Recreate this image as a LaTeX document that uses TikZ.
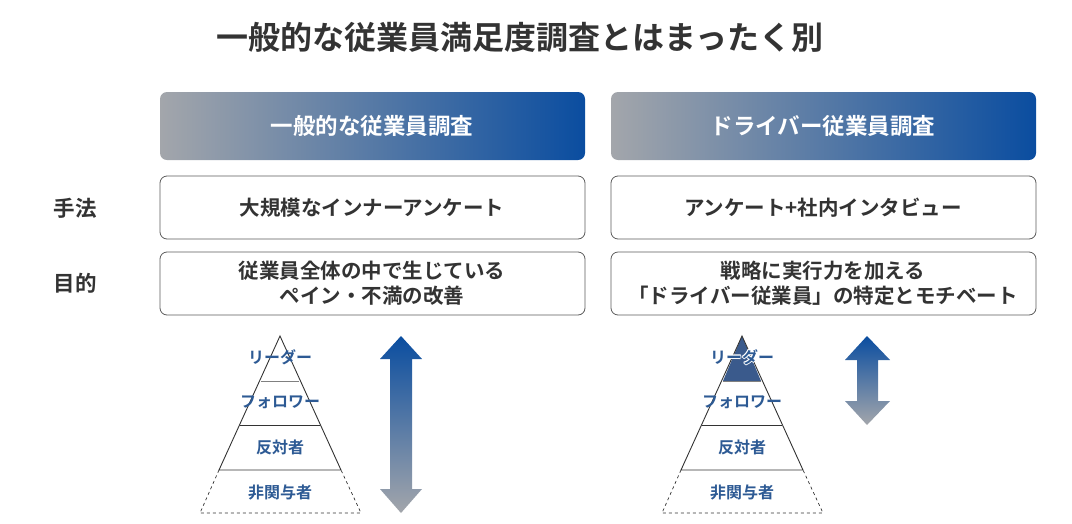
\documentclass[tikz,border=0pt]{standalone}
\usepackage{fontspec}
\setmainfont{Noto Sans CJK JP}[BoldFont={* Bold}]
\newfontfamily\cjkb{Noto Sans CJK JP Bold}
\definecolor{hblue}{HTML}{0A4DA0}
\definecolor{hgray}{HTML}{A3A6AB}
\definecolor{tblue}{HTML}{2D5A94}
\definecolor{lead}{HTML}{3A5A8C}
\definecolor{txt}{HTML}{333333}
\begin{document}
\begin{tikzpicture}[x=1pt,y=-1pt,
 header/.style={rounded corners=7pt,left color=hgray,right color=hblue,draw=none},
 rowbox/.style={rounded corners=7pt,draw=txt!80,line width=0.8pt,fill=white},
 htext/.style={text=white,font=\cjkb\fontsize{22.5}{26}\selectfont},
 rtext/.style={text=txt,font=\cjkb\fontsize{20.5}{25}\selectfont,align=center},
 ptext/.style={text=tblue,font=\cjkb\fontsize{16}{18}\selectfont},
 halo/.style={ptext,text=white},
 pline/.style={draw=txt,line width=0.9pt},
 arr/.style={top color=hblue,bottom color=hgray,draw=none}]
\useasboundingbox (0,0) rectangle (1072,523);
\node[text=txt,font=\cjkb\fontsize{32}{36}\selectfont] (title) at (520,37) {一般的な従業員満足度調査とはまったく別};
% headers
\path[header] (160,92) rectangle (585,160);
\node[htext] (h1) at (372,126) {一般的な従業員調査};
\path[header] (611,92) rectangle (1036,160);
\node[htext] (h2) at (823,126) {ドライバー従業員調査};
% rows
\node[text=txt,font=\cjkb\fontsize{21.5}{24}\selectfont] (l1) at (75,208) {手法};
\node[text=txt,font=\cjkb\fontsize{21.5}{24}\selectfont] (l2) at (75,283) {目的};
\draw[rowbox] (160,176) rectangle (585,239);
\node[rtext] (r11) at (372,208) {大規模なインナーアンケート};
\draw[rowbox] (611,176) rectangle (1036,239);
\node[rtext] (r12) at (823,208) {アンケート+社内インタビュー};
\draw[rowbox] (160,252) rectangle (585,315);
\node[rtext] (r21) at (372,283) {従業員全体の中で生じている\\ペイン・不満の改善};
\draw[rowbox] (611,252) rectangle (1036,315);
\node[rtext] (r22) at (823,283) {戦略に実行力を加える\\「ドライバー従業員」の特定とモチベート};
% left pyramid
\begin{scope}
\draw[pline] (219,470) -- (280,336) -- (341,470) -- cycle;
\draw[draw=gray,line width=0.9pt] (261,381) -- (299,381);
\draw[pline] (240,425) -- (320,425);
\draw[txt,dashed,line width=0.7pt] (219,470) -- (200,513) -- (361,513) -- (341,470);
\node[ptext] (a1) at (280,357) {リーダー};
\node[ptext] (a2) at (280,402) {フォロワー};
\node[ptext] (a3) at (280,447) {反対者};
\node[ptext] (a4) at (280,492) {非関与者};
\path[arr] (401,336) -- (422,359) -- (412,359) -- (412,489) -- (422,489) -- (401,513) -- (380,489) -- (390,489) -- (390,359) -- (380,359) -- cycle;
\end{scope}
% right pyramid
\begin{scope}[xshift=462]
\fill[lead] (280,336) -- (299,381) -- (261,381) -- cycle;
\draw[pline] (219,470) -- (280,336) -- (341,470) -- cycle;
\draw[draw=gray,line width=0.9pt] (261,381) -- (299,381);
\draw[pline] (240,425) -- (320,425);
\draw[txt,dashed,line width=0.7pt] (219,470) -- (200,513) -- (361,513) -- (341,470);
\foreach \dx/\dy in {-0.8/0,0.8/0,0/-0.8,0/0.8,-0.6/-0.6,0.6/0.6,-0.6/0.6,0.6/-0.6}
  \node[halo] at (280+\dx,357+\dy) {リーダー};
\node[ptext] (b1) at (280,357) {リーダー};
\node[ptext] (b2) at (280,402) {フォロワー};
\node[ptext] (b3) at (280,447) {反対者};
\node[ptext] (b4) at (280,492) {非関与者};
\end{scope}
\path[arr] (867,336) -- (890,360) -- (878,360) -- (878,401) -- (890,401) -- (867,425) -- (845,401) -- (857,401) -- (857,360) -- (845,360) -- cycle;
\end{tikzpicture}
\end{document}
